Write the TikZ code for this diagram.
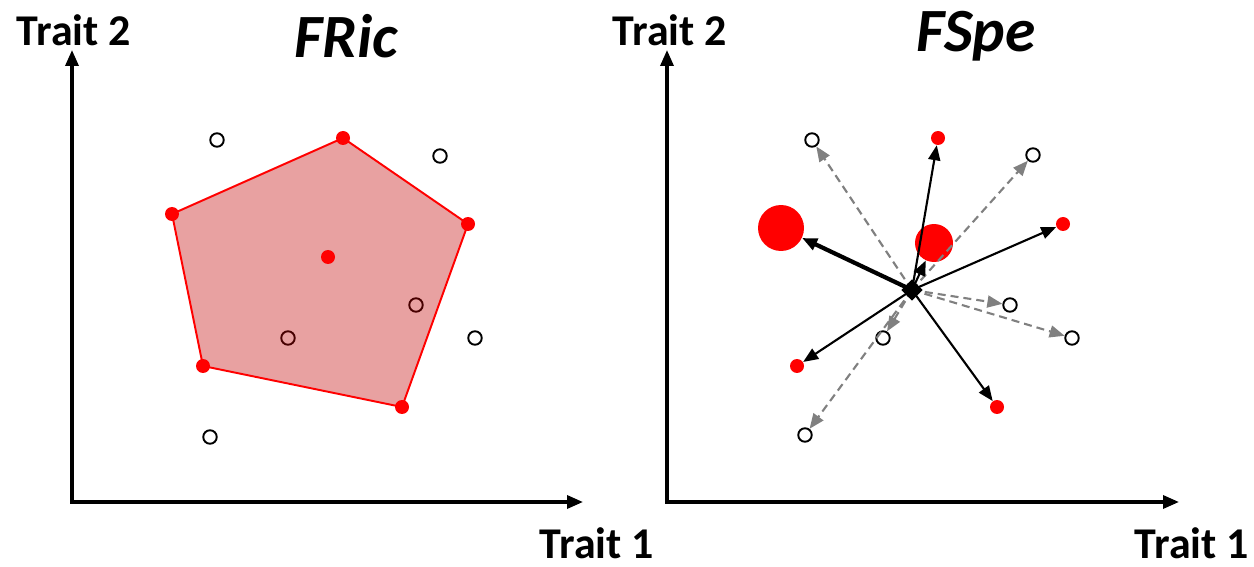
\documentclass[tikz,border=0pt]{standalone}
\usepackage{fontspec}
\setmainfont{Carlito}
\usepackage{tikz}
\usepackage{xcolor}
\usetikzlibrary{arrows.meta}
\definecolor{hullred}{RGB}{193,0,0}

\begin{document}
\begin{tikzpicture}[x=0.02cm,y=-0.02cm,
  dot/.style={circle,fill=red,inner sep=0pt,minimum size=0.28cm},
  opendot/.style={circle,draw=black,fill=white,line width=1.1pt,inner sep=0pt,minimum size=0.27cm},
  axis/.style={line width=1.9pt,{Triangle[length=0.32cm,width=0.26cm]}-{Triangle[length=0.32cm,width=0.26cm]}},
  lab/.style={font=\fontsize{25}{30}\selectfont\bfseries,inner sep=0pt},
  ttl/.style={font=\fontsize{35}{42}\selectfont\bfseries\itshape},
  vec/.style={line width=1.2pt,-{Triangle[length=0.3cm,width=0.24cm]}},
  gvec/.style={vec,gray,dash pattern=on 0.16cm off 0.1cm}]
\useasboundingbox (0,0) rectangle (1254,567);
% axes and labels
\coordinate (O1) at (72,502); \coordinate (Y1) at (72,50); \coordinate (X1) at (583,502);
\coordinate (O2) at (667,502); \coordinate (Y2) at (667,50); \coordinate (X2) at (1179,502);
\draw[axis] (Y1)--(O1)--(X1);
\draw[axis] (Y2)--(O2)--(X2);
\node[lab] (ty1) at (74,30) {Trait 2};
\node[lab] (tx1) at (597,543) {Trait 1};
\node[lab] (ty2) at (670,30) {Trait 2};
\node[lab] (tx2) at (1192,543) {Trait 1};
\node[ttl] (fric) at (346,36) {FRic};
\node[ttl] (fspe) at (976,36) {FSpe};
% FRic: convex hull
\foreach \n/\x/\y in {a1/217/140,a2/440/156,a3/475/338,a4/210/437,a5/288/338,a6/416/305}
  {\node[opendot] (\n) at (\x,\y) {};}
\foreach \n/\x/\y in {r1/343/138,r2/468/224,r3/402/407,r4/203/366,r5/172/214,r6/328/257}
  {\coordinate (\n) at (\x,\y);}
\filldraw[fill=hullred,fill opacity=0.37,draw=red,line width=1.1pt] (r1)--(r2)--(r3)--(r4)--(r5)--cycle;
\foreach \n in {r1,r2,r3,r4,r5,r6} {\node[dot] (d\n) at (\n) {};}
% FSpe: distances to centroid
\coordinate (c) at (912,290);
\node[dot,minimum size=0.92cm] (S1) at (781,228) {};
\node[dot,minimum size=0.76cm] (S2) at (934,243) {};
\foreach \n/\x/\y in {s1/938/138,s2/1063/224,s3/797/366,s4/997/407}
  {\node[dot] (\n) at (\x,\y) {};}
\foreach \n/\x/\y in {b1/812/140,b2/1033/155,b3/1010/305,b4/1072/338,b5/883/338,b6/805/435}
  {\node[opendot] (\n) at (\x,\y) {};}
\foreach \n in {b1,b2,b3,b4,b5,b6} {\draw[gvec] (c)--(\n);}
\foreach \n in {s1,s2,s3,s4,S2} {\draw[vec] (c)--(\n);}
\draw[vec,line width=2.4pt] (c)--(S1);
\node[fill=black,rotate=45,inner sep=0pt,minimum size=0.3cm] (cd) at (c) {};
\end{tikzpicture}
\end{document}
